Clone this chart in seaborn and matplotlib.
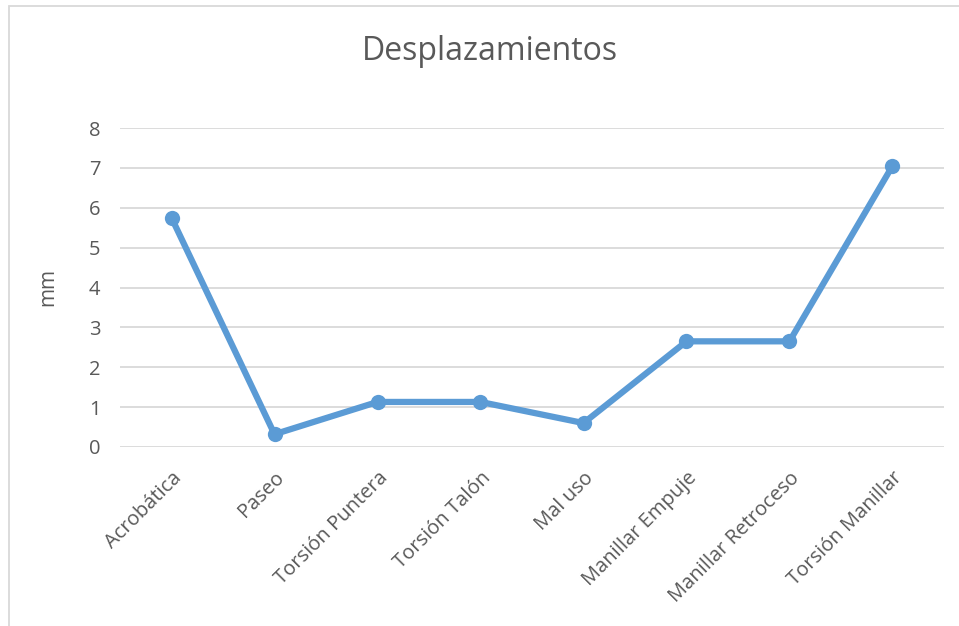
import numpy as np
import pandas as pd
import matplotlib
matplotlib.use('Agg')
import matplotlib.pyplot as plt
import seaborn as sns
from matplotlib.patches import Rectangle

# data
categorias = ['Acrobática', 'Paseo', 'Torsión Puntera', 'Torsión Talón', 'Mal uso',
              'Manillar Empuje', 'Manillar Retroceso', 'Torsión Manillar']
desplazamiento_mm = [5.75, 0.32, 1.13, 1.13, 0.60, 2.65, 2.65, 7.05]
yticks = [0, 1, 2, 3, 4, 5, 6, 7, 8]

df = pd.DataFrame({'categoria': categorias, 'mm': desplazamiento_mm})

sns.set_theme(style='white')
plt.rcParams['font.family'] = ['Open Sans', 'DejaVu Sans']
gris = '#595959'

fig = plt.figure(figsize=(9.59, 6.26), dpi=100)
W, H = 959, 626
ax = fig.add_axes([120 / W, 1 - 447 / H, (944 - 120) / W, (447 - 128) / H])

# chart frame
fig.patches.append(Rectangle((9 / W, -0.1), 1.2, (1 - 6 / H) + 0.1, transform=fig.transFigure,
                             fill=False, edgecolor='#D9D9D9', linewidth=1.3, zorder=0))

xpos = np.arange(len(categorias))
sns.lineplot(x=xpos, y=df['mm'], ax=ax, color='#5B9BD5', linewidth=4.5,
             marker='o', markersize=11, markeredgewidth=0, zorder=3)

ax.set_xlim(-0.5, len(categorias) - 0.5)
ax.set_ylim(0, 8)
ax.set_yticks(yticks)
ax.set_yticklabels([str(t) for t in yticks], fontsize=14.5, color=gris)
ax.set_xticks(xpos)
ax.set_xticklabels(categorias, rotation=45, ha='right', rotation_mode='anchor',
                   fontsize=14.5, color=gris)
ax.tick_params(axis='y', length=0, pad=14)
ax.tick_params(axis='x', length=0, pad=15)

ax.grid(axis='y', color='#D9D9D9', linewidth=1.3)
ax.grid(axis='x', visible=False)
ax.set_axisbelow(True)
for s in ax.spines.values():
    s.set_visible(False)

ax.set_xlabel('')
ax.set_ylabel('mm', fontsize=15, color=gris, labelpad=22)
fig.text(490 / W, 1 - 52 / H, 'Desplazamientos', ha='center', va='center',
         fontsize=23, color=gris)

fig.savefig('out.png', dpi=100)
